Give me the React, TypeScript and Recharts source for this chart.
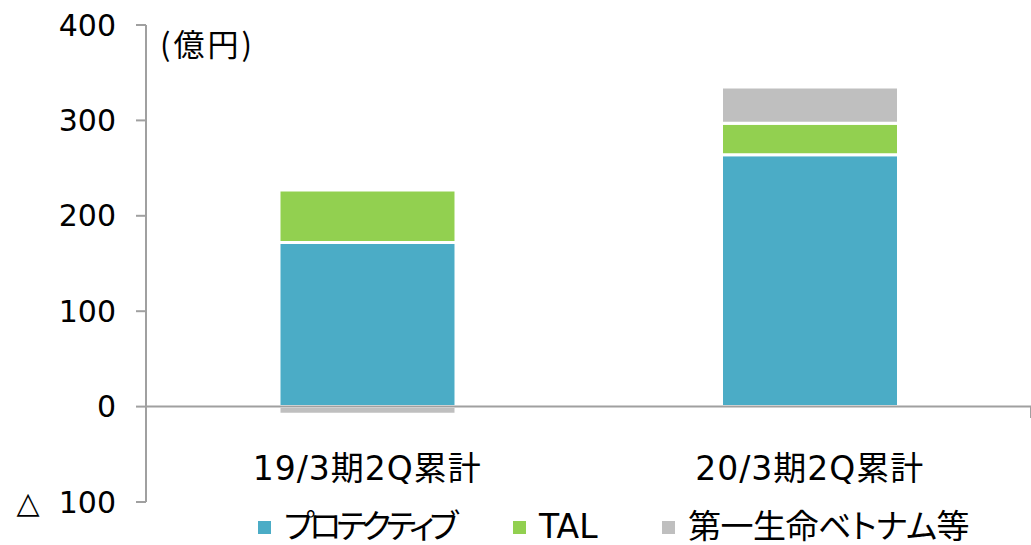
import { Bar, BarChart, Legend, ReferenceLine, XAxis, YAxis } from 'recharts'

const categories = ['19/3期2Q累計', '20/3期2Q累計']
const protective = [172, 264]
const tal = [55, 33]
const vietnam = [-8, 38]
const yTicks = [-100, 0, 100, 200, 300, 400]

const seriesNames = ['プロテクティブ', 'TAL', '第一生命ベトナム等']
const seriesColors = ['#4BACC6', '#92D050', '#BFBFBF']

const data = categories.map((name, i) => ({
  name,
  protective: protective[i],
  tal: tal[i],
  vietnam: vietnam[i],
}))

const FONT = "'DejaVu Sans', 'Noto Sans CJK JP', sans-serif"
const CJK_FONT = "'Noto Sans CJK JP', 'DejaVu Sans', sans-serif"
const AXIS_GRAY = '#A0A0A0'
// legend item slot widths / tracking so the markers line up like the original
const LEGEND_SLOTS = [255, 149, 330]
const LEGEND_TRACKING = [-5, 0, -0.5]

const formatYTick = (value: number) => (value < 0 ? `△\u00a0\u00a0${Math.abs(value)}` : `${value}`)

const CategoryTick = (props: any) => {
  const { x, y, payload } = props
  return (
    <text
      x={x}
      y={y - 42}
      dy="0.355em"
      textAnchor="middle"
      fontSize={33}
      letterSpacing={1}
      fontFamily={FONT}
      fill="#000"
    >
      {payload.value}
    </text>
  )
}

const UnitLabel = (props: any) => {
  const { viewBox } = props
  return (
    <text
      x={viewBox.x + viewBox.width + 14}
      y={viewBox.y + 20}
      dy="0.355em"
      fontSize={31}
      letterSpacing={3}
      fontFamily={CJK_FONT}
      fill="#000"
    >
      (億円)
    </text>
  )
}

const LegendContent = () => (
  <div
    style={{
      display: 'flex',
      alignItems: 'center',
      paddingLeft: 258,
      height: 36,
      lineHeight: '36px',
      fontFamily: FONT,
      fontSize: 33,
      fontFeatureSettings: '"palt"',
      color: '#000',
    }}
  >
    {seriesNames.map((name, i) => (
      <div
        key={name}
        style={{ display: 'flex', alignItems: 'center', gap: 13, width: LEGEND_SLOTS[i], whiteSpace: 'nowrap' }}
      >
        <span style={{ width: 13, height: 13, background: seriesColors[i], display: 'inline-block', flexShrink: 0 }} />
        <span style={{ letterSpacing: LEGEND_TRACKING[i] }}>{name}</span>
      </div>
    ))}
  </div>
)

function App() {
  return (
    <div style={{ position: 'absolute', left: 0, top: 0 }}>
      <BarChart
        width={1031}
        height={545}
        data={data}
        stackOffset="sign"
        margin={{ top: 25, right: 0, bottom: 0, left: 0 }}
      >
        <XAxis
          dataKey="name"
          axisLine={false}
          tickLine={false}
          height={7}
          tick={<CategoryTick />}
          interval={0}
        />
        <XAxis xAxisId="div" type="number" domain={[0, 2]} hide />
        <YAxis
          width={146}
          domain={[-100, 400]}
          ticks={yTicks}
          tickFormatter={formatYTick}
          tickSize={10}
          tickMargin={20}
          axisLine={{ stroke: AXIS_GRAY, strokeWidth: 2 }}
          tickLine={{ stroke: AXIS_GRAY, strokeWidth: 2 }}
          tick={{ fill: '#000', fontSize: 30, fontFamily: FONT }}
          label={<UnitLabel />}
        />
        <Legend verticalAlign="bottom" height={36} content={<LegendContent />} />
        <Bar dataKey="protective" stackId="a" fill={seriesColors[0]} stroke="#fff" strokeWidth={3} barSize={177} isAnimationActive={false} />
        <Bar dataKey="tal" stackId="a" fill={seriesColors[1]} stroke="#fff" strokeWidth={3} barSize={177} isAnimationActive={false} />
        <Bar dataKey="vietnam" stackId="a" fill={seriesColors[2]} stroke="#fff" strokeWidth={3} barSize={177} isAnimationActive={false} />
        <ReferenceLine y={0} stroke={AXIS_GRAY} strokeWidth={2} />
        <ReferenceLine
          xAxisId="div"
          segment={[
            { x: 1, y: 0 },
            { x: 1, y: -12 },
          ]}
          stroke={AXIS_GRAY}
          strokeWidth={2}
        />
      </BarChart>
    </div>
  )
}

export default App
